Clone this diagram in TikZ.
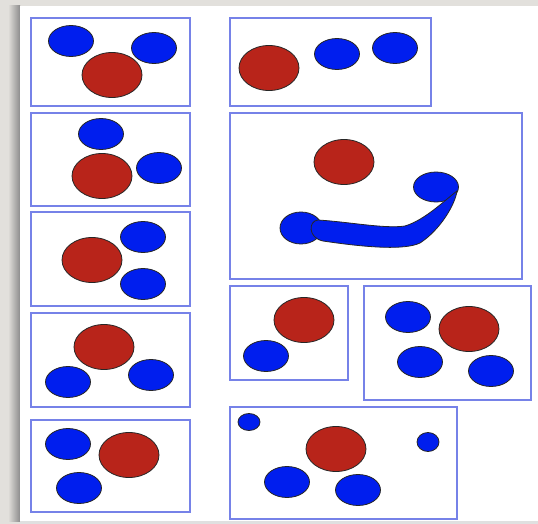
\documentclass[tikz,border=0pt]{standalone}
\usepackage{tikz}
\usepackage{xcolor}
\usetikzlibrary{shapes.geometric}

\definecolor{ballblue}{RGB}{0,30,238}
\definecolor{ballred}{RGB}{184,36,26}
\definecolor{framecol}{RGB}{118,130,232}
\definecolor{wallgray}{RGB}{226,224,220}

\begin{document}
\begin{tikzpicture}[
		x=1pt, y=-1pt,
		ball/.style={
			draw=black!85, line width=0.8pt, ellipse,
			inner sep=0pt, outer sep=0pt
		},
		blueball/.style={ball, fill=ballblue, minimum width=45pt, minimum height=31pt},
		redball/.style={ball, fill=ballred, minimum width=60pt, minimum height=45pt},
		dot/.style={ball, fill=ballblue, minimum width=22pt, minimum height=17pt},
		frame/.style={draw=framecol, line width=1.4pt},
		]
		
		\useasboundingbox (0,0) rectangle (538,524);
		\fill[wallgray] (0,0) rectangle (538,524);
		\shade[left color=wallgray, right color=black!45] (8,6) rectangle (20,521);
		\fill[white] (20,6) rectangle (538,521);
		\fill[black!12] (20,521) rectangle (538,524);
		
		% left column
		\draw[frame] (31,18)  rectangle (190,106);
		\node[blueball] (a1) at (71,41) {};
		\node[blueball] (a2) at (154,48) {};
		\node[redball]  (a0) at (112,75) {};
		
		\draw[frame] (31,113) rectangle (190,206);
		\node[blueball] (b1) at (101,134) {};
		\node[redball]  (b0) at (102,176) {};
		\node[blueball] (b2) at (159,168) {};
		
		\draw[frame] (31,212) rectangle (190,306);
		\node[blueball] (c1) at (143,237) {};
		\node[redball]  (c0) at (92,260) {};
		\node[blueball] (c2) at (143,284) {};
		
		\draw[frame] (31,313) rectangle (190,407);
		\node[redball]  (d0) at (104,347) {};
		\node[blueball] (d1) at (68,382) {};
		\node[blueball] (d2) at (151,375) {};
		
		\draw[frame] (31,420) rectangle (190,512);
		\node[blueball] (e1) at (68,444) {};
		\node[redball]  (e0) at (129,455) {};
		\node[blueball] (e2) at (79,488) {};
		
		% right column
		\draw[frame] (230,18) rectangle (431,106);
		\node[redball]  (f0) at (269,68) {};
		\node[blueball] (f1) at (337,54) {};
		\node[blueball] (f2) at (395,48) {};
		
		\draw[frame] (230,113) rectangle (522,279);
		\node[redball]  (g0) at (344,162) {};
		\node[blueball, minimum height=30pt] (g1) at (436,187) {};
		\node[blueball, minimum width=42pt, minimum height=32pt] (g2) at (301,228) {};
		\filldraw[fill=ballblue, draw=black!85, line width=0.8pt]
			(318,220) .. controls (350,222) and (385,229) .. (405,226)
			.. controls (425,220) and (445,200) .. (457,191)
			.. controls (455,205) and (440,230) .. (420,243)
			.. controls (405,250) and (370,248) .. (323,241)
			.. controls (308,238) and (308,221) .. (318,220) -- cycle;
		
		\draw[frame] (230,286) rectangle (348,380);
		\node[redball]  (h0) at (304,320) {};
		\node[blueball] (h1) at (266,356) {};
		
		\draw[frame] (364,286) rectangle (531,400);
		\node[blueball] (i1) at (408,317) {};
		\node[redball]  (i0) at (469,329) {};
		\node[blueball] (i2) at (420,362) {};
		\node[blueball] (i3) at (491,371) {};
		
		\draw[frame] (230,407) rectangle (457,519);
		\node[dot]      (j1) at (249,422) {};
		\node[dot, minimum height=19pt] (j2) at (428,442) {};
		\node[redball]  (j0) at (336,449) {};
		\node[blueball] (j3) at (287,482) {};
		\node[blueball] (j4) at (358,490) {};
		
	\end{tikzpicture}
\end{document}
